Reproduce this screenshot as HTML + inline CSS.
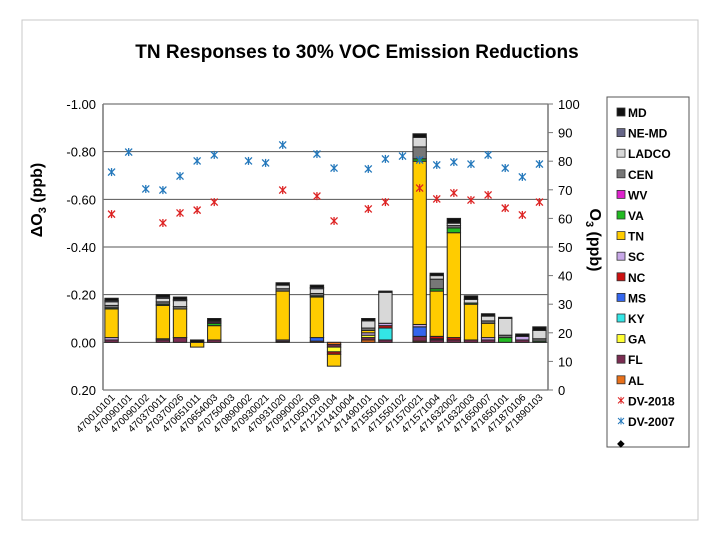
<!DOCTYPE html>
<html><head><meta charset="utf-8"><style>
html,body{margin:0;padding:0;background:#fff;}
svg{display:block;font-family:"Liberation Sans",Arial,sans-serif;}
</style></head><body>
<svg id="chart" width="720" height="540" viewBox="0 0 720 540">
<rect x="22" y="20" width="676" height="500" fill="#fff" stroke="#c8c8c8" stroke-width="1"/>
<text x="357" y="58" text-anchor="middle" font-size="19" font-weight="bold">TN Responses to 30% VOC Emission Reductions</text>
<g id="grid"></g>
<g id="bars"></g>
<g id="pts"></g>
<g id="axes"></g>
<text transform="translate(42,200) rotate(-90)" text-anchor="middle" font-size="16" font-weight="bold">ΔO<tspan font-size="11" dy="4">3</tspan><tspan dy="-4"> (ppb)</tspan></text>
<text transform="translate(590,240) rotate(90)" text-anchor="middle" font-size="16" font-weight="bold">O<tspan font-size="11" dy="4">3</tspan><tspan dy="-4"> (ppb)</tspan></text>
<rect x="607" y="97" width="82" height="350" fill="#fff" stroke="#555" stroke-width="1"/>
<g id="legend"></g>
</svg>
<script>
const categories=["470010101","470090101","470090102","470370011","470370026","470651011","470654003","470750003","470890002","470930021","470931020","470990002","471050109","471210104","471410004","471490101","471550101","471550102","471570021","471571004","471632002","471632003","471650007","471650101","471870106","471890103"];
const seriesNames=["AL","FL","GA","KY","MS","NC","SC","TN","VA","WV","CEN","LADCO","NE-MD","MD"];
const seriesColors=["#e8701a","#7b2d52","#ffff33","#33e6e6","#3366ee","#cc1111","#c8a8e8","#ffcc00","#22bb22","#dd22cc","#777777","#d8d8d8","#666688","#111111"];
const AL=[0,0,0,0,0,0,0,0,0,0,0,0,-0.005,0.01,0,-0.01,0,0,-0.005,0,0,0,0,0,0,0];
const FL=[-0.01,0,0,-0.01,-0.02,0,-0.01,0,0,0,-0.005,0,0,0.01,0,-0.01,-0.01,0,-0.02,-0.01,-0.01,-0.01,-0.01,0,-0.01,0];
const GA=[0,0,0,0,0,0,0,0,0,0,0,0,0,0.02,0,-0.01,0,0,0,0,0,0,0,0,0,0];
const KY=[0,0,0,0,0,0,0,0,0,0,0,0,0,0,0,0,-0.05,0,0,0,0,0,0,0,0,0];
const MS=[0,0,0,0,0,0,0,0,0,0,0,0,-0.015,0,0,0,0,0,-0.04,-0.005,0,0,0,0,0,0];
const NC=[0,0,0,0,0,0,0,0,0,0,0,0,0,0.01,0,0,-0.01,0,0,-0.01,-0.01,0,0,0,0,0];
const SC=[-0.01,0,0,-0.005,0,0,0,0,0,0,-0.005,0,0,0,0,-0.01,-0.01,0,-0.01,0,0,0,-0.01,0,-0.015,0];
const TN=[-0.12,0,0,-0.14,-0.12,0.02,-0.06,0,0,0,-0.205,0,-0.17,0.05,0,-0.01,0,0,-0.685,-0.19,-0.44,-0.15,-0.06,0,0,0];
const VA=[-0.005,0,0,-0.005,0,0,-0.01,0,0,0,0,0,-0.005,0,0,0,0,0,-0.01,-0.01,-0.02,-0.005,0,-0.02,0,-0.005];
const WV=[0,0,0,0,0,0,-0.005,0,0,0,0,0,0,0,0,0,0,0,0,0,0,0,0,0,0,0];
const CEN=[-0.01,0,0,-0.01,-0.01,0,-0.005,0,0,0,-0.01,0,-0.01,0,0,-0.01,0,0,-0.05,-0.04,-0.01,0,-0.01,-0.01,0,-0.01];
const LADCO=[-0.015,0,0,-0.015,-0.025,0,0,0,0,0,-0.015,0,-0.02,0,0,-0.03,-0.13,0,-0.04,-0.015,-0.01,-0.015,-0.02,-0.07,0,-0.035];
const NEMD=[-0.005,0,0,-0.005,-0.005,0,0,0,0,0,0,0,-0.005,0,0,0,0,0,0,0,0,0,0,0,0,0];
const MD=[-0.01,0,0,-0.01,-0.01,-0.01,-0.01,0,0,0,-0.01,0,-0.01,0,0,-0.01,-0.005,0,-0.015,-0.01,-0.02,-0.015,-0.01,-0.005,-0.01,-0.015];
const DV2018=[61.5,null,null,58.4,61.9,62.9,65.7,null,null,null,69.9,null,67.8,59.1,null,63.3,65.7,null,70.6,66.8,68.9,66.4,68.2,63.6,61.2,65.7];
const DV2007=[76.2,83.2,70.3,69.9,74.8,80.1,82.2,null,80.1,79.4,85.7,null,82.5,77.6,null,77.3,80.8,81.8,80.4,78.7,79.7,79.0,82.2,77.6,74.5,79.0];
const leftTicks=[-1.0,-0.8,-0.6,-0.4,-0.2,0.0,0.2];
const rightTicks=[0,10,20,30,40,50,60,70,80,90,100];
const series=[AL,FL,GA,KY,MS,NC,SC,TN,VA,WV,CEN,LADCO,NEMD,MD];

const NS="http://www.w3.org/2000/svg";
const X0=103,X1=548,YT=104,YB=390;
const yL=v=>YT+(v-(-1.0))/(0.2-(-1.0))*(YB-YT);
const yR=v=>YB-(v/100)*(YB-YT);
const step=(X1-X0)/categories.length;
const xC=i=>X0+step*(i+0.5);
function mk(tag,attrs,parent){const e=document.createElementNS(NS,tag);for(const k in attrs)e.setAttribute(k,attrs[k]);parent.appendChild(e);return e;}
const grid=document.getElementById('grid'),axes=document.getElementById('axes'),bars=document.getElementById('bars'),pts=document.getElementById('pts'),leg=document.getElementById('legend');

leftTicks.forEach(t=>{
  const y=yL(t);
  const g=mk('line',{x1:X0,x2:X1,y1:y,y2:y,stroke:'#555','stroke-width':1},grid);
  
  
  const tx=mk('text',{x:X0-7,y:y+5,'text-anchor':'end','font-size':13},axes);
  tx.textContent=t.toFixed(2);
  
  
});
rightTicks.forEach(t=>{
  const y=yR(t);
  const tk=mk('line',{x1:X1,x2:X1+5,y1:y,y2:y,stroke:'#777'},axes);
  
  
  const tx=mk('text',{x:X1+10,y:y+5,'font-size':13},axes);
  tx.textContent=t;
  
  
});
const la=mk('line',{x1:X0,x2:X0,y1:YT,y2:YB,stroke:'#777','stroke-width':1.5},axes);


const ra=mk('line',{x1:X1,x2:X1,y1:YT,y2:YB,stroke:'#777','stroke-width':1.5},axes);



categories.forEach((c,i)=>{
  const x=xC(i)+4,y=YB+8;
  const tx=mk('text',{x:x,y:y,'text-anchor':'end','font-size':10,transform:`rotate(-45 ${x} ${y})`},axes);
  tx.textContent=c;
  
  
  let neg=0,pos=0;const w=step*0.78;
  series.forEach((s,k)=>{
    const v=s[i];if(!v)return;
    let a,b;
    if(v<0){a=neg;b=neg+v;neg=b;}else{a=pos;b=pos+v;pos=b;}
    const y1=yL(a),y2=yL(b);
    const r=mk('rect',{x:xC(i)-w/2,y:Math.min(y1,y2),width:w,height:Math.abs(y2-y1),fill:seriesColors[k],stroke:'#222','stroke-width':1},bars);
    
    
  });
});
function star(x,y,col,name){
  const g=mk('g',{stroke:col,'stroke-width':1.3},pts);
  
  
  mk('line',{x1:x-3.5,x2:x+3.5,y1:y-3.5,y2:y+3.5},g);
  mk('line',{x1:x-3.5,x2:x+3.5,y1:y+3.5,y2:y-3.5},g);
  mk('line',{x1:x,x2:x,y1:y-4,y2:y+4},g);
}
DV2018.forEach((v,i)=>{if(v!=null)star(xC(i),yR(v),'#dd2222','dv-2018-point');});
DV2007.forEach((v,i)=>{if(v!=null)star(xC(i),yR(v),'#2277bb','dv-2007-point');});

const ord=seriesNames.map((n,k)=>k).reverse();
ord.forEach((k,j)=>{
  const y=112+j*20.6;
  const r=mk('rect',{x:617,y:y-4,width:8,height:8,fill:seriesColors[k],stroke:'#333','stroke-width':0.8},leg);
  
  
  const t=mk('text',{x:628,y:y+5,'font-size':12,'font-weight':'bold'},leg);
  t.textContent=seriesNames[k];
  
  
});
[['DV-2018','#dd2222'],['DV-2007','#2277bb']].forEach((d,j)=>{
  const y=112+(14+j)*20.6;
  const g=mk('g',{stroke:d[1],'stroke-width':1},leg);
  
  
  mk('line',{x1:618,x2:624,y1:y-3,y2:y+3},g);mk('line',{x1:618,x2:624,y1:y+3,y2:y-3},g);mk('line',{x1:621,x2:621,y1:y-3.5,y2:y+3.5},g);
  const t=mk('text',{x:628,y:y+5,'font-size':12,'font-weight':'bold'},leg);
  t.textContent=d[0];
  
  
});
const dm=mk('text',{x:617,y:112+16*20.6+5,'font-size':10},leg);
dm.textContent='◆';


</script>
</body></html>
